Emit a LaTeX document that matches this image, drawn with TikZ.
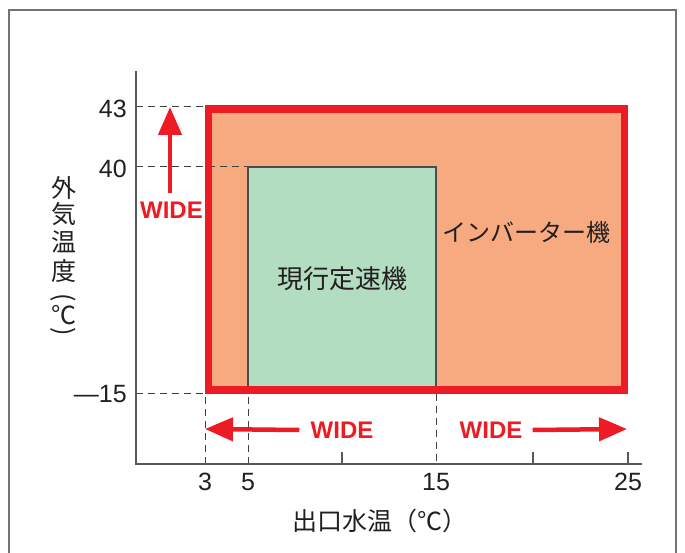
\documentclass[tikz,border=0pt]{standalone}
\usepackage{fontspec}
\setmainfont{Liberation Sans}
\newfontfamily\jp{Noto Sans CJK JP}
\usetikzlibrary{arrows.meta,positioning}
\definecolor{widered}{HTML}{ED1C24}
\definecolor{invfill}{HTML}{F7AA80}
\definecolor{fixfill}{HTML}{B3DDC1}
\definecolor{inkgray}{HTML}{231F20}

\begin{document}
\begin{tikzpicture}[x=1pt,y=-1pt,
  frameline/.style={draw=black!55,line width=1.2pt},
  axisline/.style={draw=black!65,line width=1.5pt},
  guide/.style={draw=black!75,line width=1pt,dash pattern=on 7pt off 5pt},
  widearrow/.style={draw=widered,line width=4.5pt,-{Triangle[length=28pt,width=23pt]}},
  widelabel/.style={text=widered,font=\fontsize{24}{24}\selectfont\bfseries,inner sep=0pt},
  numlabel/.style={text=inkgray,font=\fontsize{25}{25}\selectfont,inner sep=0pt},
  jplabel/.style={text=inkgray,font=\jp\fontsize{25}{25}\selectfont,inner sep=0pt}]
\useasboundingbox (0,0) rectangle (685,553);
% frame, open at the bottom
\draw[frameline] (9,553) -- (9,10) -- (676,10) -- (676,553);
% axes
\coordinate (O) at (136,464);
\coordinate (ytop) at (136,71);
\coordinate (xend) at (642,464);
% inverter range
\fill[invfill] (208.5,109) rectangle (624.5,390);
% dashed guides
\draw[guide] (O |- 0,107) -- (205,107);
\draw[guide] (O |- 0,167) -- (248,167);
\draw[guide] (O |- 0,393) -- (205,393);
\draw[guide] (205,397) -- (205,0 |- O);
\draw[guide] (248,397) -- (248,0 |- O);
\draw[guide] (436,394) -- (436,0 |- O);
% fixed speed range
\draw[fill=fixfill,draw=black!70,line width=1.3pt] (248,167) rectangle (436,386.5);
\draw[draw=widered,line width=7.5pt] (208.5,109) rectangle (624.5,390);
\draw[axisline] (ytop) -- (O) -- (xend);
\foreach \tx in {342,533,628}
  \draw[axisline] (\tx,452) -- (\tx,464);
% tick labels
\node[numlabel,anchor=east] (t43) at (127,109) {43};
\node[numlabel,anchor=east] (t40) at (127,169) {40};
\node[numlabel,anchor=east] (tm15) at (127,394) {—15};
\node[numlabel] (x3) at (205,482) {3};
\node[numlabel] (x5) at (248,482) {5};
\node[numlabel] (x15) at (436,482) {15};
\node[numlabel] (x25) at (628,482) {25};
% axis titles
\node[jplabel] (xtitle) at (380,521) {出口水温（℃）};
\foreach \ch/\yy [count=\i] in {外/187.5,気/214.5,温/242,度/271.5,℃/315}
  \node[jplabel] (ychar\i) at (63.5,\yy) {\ch};
\node[jplabel] (yopen) at (63.5,298) {\rotatebox{-90}{(}};
\node[jplabel] (yclose) at (63.5,332) {\rotatebox{-90}{)}};
% range names
\node[jplabel,font=\jp\fontsize{26}{26}\selectfont] (fixname) at (342,279) {現行定速機};
\node[jplabel,font=\jp\fontsize{24}{24}\selectfont] (invname) at (526,232) {インバーター機};
% WIDE arrows
\coordinate (upfoot) at (170,193);
\coordinate (uptip) at (170,107);
\draw[widearrow] (upfoot) -- (uptip);
\node[widelabel,fill=white,inner sep=1pt] (wideup) at (171.5,210) {WIDE};
\node[widelabel] (wideleft) at (342,430) {WIDE};
\node[widelabel] (wideright) at (491,430) {WIDE};
\coordinate (lefttip) at (205,429);
\coordinate (righttip) at (627,429);
\draw[widearrow] (wideleft.west) ++(-11,0) coordinate (leftfoot) -- (lefttip);
\draw[widearrow] (wideright.east) ++(10,0) coordinate (rightfoot) -- (righttip);
\end{tikzpicture}
\end{document}
